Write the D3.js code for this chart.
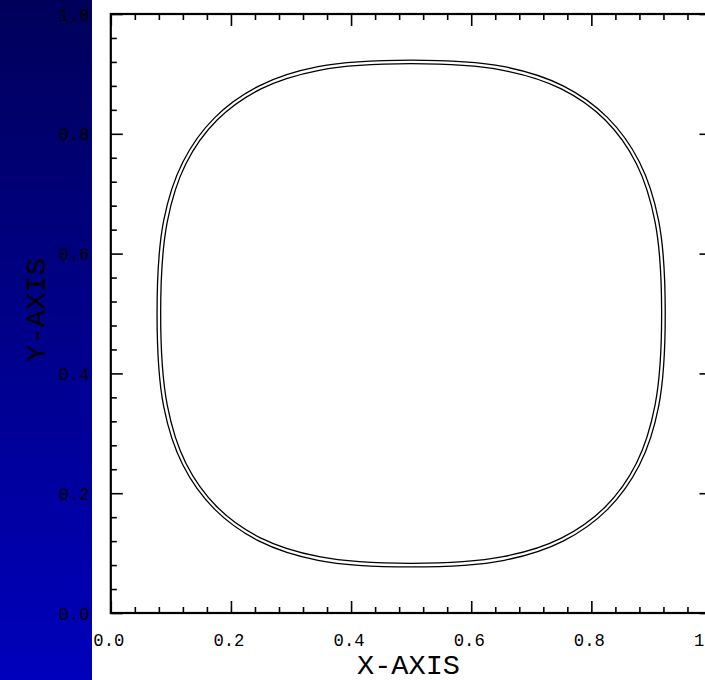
<!DOCTYPE html>
<html>
<head>
<meta charset="utf-8">
<script src="https://cdn.jsdelivr.net/npm/d3@7"></script>
<style>
  html, body { margin: 0; padding: 0; background: #fff; overflow: hidden; }
  svg { display: block; }
</style>
</head>
<body>
<script>
// tick values (major every 0.2, minor every 0.04)
var majorTicks = [0.0, 0.2, 0.4, 0.6, 0.8, 1.0];
var minorTicks = [0.04, 0.08, 0.12, 0.16, 0.24, 0.28, 0.32, 0.36, 0.44, 0.48, 0.52, 0.56,
                  0.64, 0.68, 0.72, 0.76, 0.84, 0.88, 0.92, 0.96];
var xTitle = "X-AXIS";
var yTitle = "Y-AXIS";

// outer contour
var outerX = [0.923, 0.912, 0.880, 0.827, 0.753, 0.655, 0.500, 0.345, 0.247, 0.173, 0.120, 0.088,
              0.077, 0.088, 0.120, 0.173, 0.247, 0.345, 0.500, 0.655, 0.753, 0.827, 0.880, 0.912];
var outerY = [0.500, 0.655, 0.753, 0.827, 0.880, 0.912, 0.923, 0.912, 0.880, 0.827, 0.753, 0.655,
              0.500, 0.345, 0.247, 0.173, 0.120, 0.088, 0.077, 0.088, 0.120, 0.173, 0.247, 0.345];

// inner contour
var innerX = [0.917, 0.906, 0.875, 0.823, 0.750, 0.653, 0.500, 0.347, 0.250, 0.177, 0.125, 0.094,
              0.083, 0.094, 0.125, 0.177, 0.250, 0.347, 0.500, 0.653, 0.750, 0.823, 0.875, 0.906];
var innerY = [0.500, 0.653, 0.750, 0.823, 0.875, 0.906, 0.917, 0.906, 0.875, 0.823, 0.750, 0.653,
              0.500, 0.347, 0.250, 0.177, 0.125, 0.094, 0.083, 0.094, 0.125, 0.177, 0.250, 0.347];

function drawChart(){

	var w = 705;
	var h = 680;

	var plot_left = 110.8;
	var plot_right = 711.5;
	var plot_top = 14;
	var plot_bottom = 613;
	var panel_width = 92;
	var font = "'Liberation Mono', 'DejaVu Sans Mono', monospace";

	var svg = d3.select("body")
		.append("svg")
		.attr("width", w)
		.attr("height", h);

	var x = d3.scaleLinear().domain([0, 1]).range([plot_left, plot_right]);
	var y = d3.scaleLinear().domain([0, 1]).range([plot_bottom, plot_top]);

	// BLUE SIDE PANEL

	var grad = svg.append("defs").append("linearGradient")
		.attr("id", "panelGrad")
		.attr("x1", 0).attr("y1", 0).attr("x2", 0).attr("y2", 1);
	grad.append("stop").attr("offset", "0%").attr("stop-color", "#00005a");
	grad.append("stop").attr("offset", "100%").attr("stop-color", "#0000bc");

	svg.append("rect")
		.attr("x", 0).attr("y", 0)
		.attr("width", panel_width).attr("height", h)
		.attr("fill", "url(#panelGrad)");

	// CONTOURS

	var line = d3.line()
		.x(function(d) { return x(d[0]); })
		.y(function(d) { return y(d[1]); })
		.curve(d3.curveCatmullRomClosed.alpha(0.5));

	var contours = [d3.zip(outerX, outerY), d3.zip(innerX, innerY)];

	svg.selectAll(".contour")
		.data(contours)
		.enter()
		.append("path")
		.attr("class", "contour")
		.attr("d", line)
		.attr("fill", "none")
		.attr("stroke", "black")
		.attr("stroke-width", 1.3);

	// TICKS (all pointing into the plot)

	function tickAxis(axis, scale, values, size, tx, ty){
		var g = svg.append("g")
			.attr("transform", "translate(" + tx + "," + ty + ")")
			.call(axis(scale).tickValues(values).tickSize(size).tickFormat(""));
		g.select(".domain").remove();
		g.selectAll(".tick line").attr("stroke", "black").attr("stroke-width", 1.6);
		return g;
	}

	tickAxis(d3.axisBottom, x, majorTicks, -12, 0, plot_bottom);
	tickAxis(d3.axisBottom, x, minorTicks, -6, 0, plot_bottom);
	tickAxis(d3.axisTop, x, majorTicks, -12, 0, plot_top);
	tickAxis(d3.axisTop, x, minorTicks, -6, 0, plot_top);
	tickAxis(d3.axisLeft, y, majorTicks, -12, plot_left, 0);
	tickAxis(d3.axisLeft, y, minorTicks, -6, plot_left, 0);
	tickAxis(d3.axisRight, y, majorTicks, -12, plot_right, 0);
	tickAxis(d3.axisRight, y, minorTicks, -6, plot_right, 0);

	// FRAME

	svg.append("rect")
		.attr("x", plot_left).attr("y", plot_top)
		.attr("width", plot_right - plot_left)
		.attr("height", plot_bottom - plot_top)
		.attr("fill", "none")
		.attr("stroke", "black")
		.attr("stroke-width", 2.2);

	// TICK LABELS

	var fmt = d3.format(".1f");

	svg.selectAll(".xlab")
		.data(majorTicks)
		.enter()
		.append("text")
		.attr("class", "xlab")
		.attr("x", function(d) { return x(d) - 2; })
		.attr("y", 646)
		.attr("text-anchor", "middle")
		.attr("font-family", font).attr("font-size", "19px")
		.attr("textLength", 31).attr("lengthAdjust", "spacingAndGlyphs")
		.attr("fill", "black")
		.text(function(d) { return fmt(d); });

	svg.selectAll(".ylab")
		.data(majorTicks)
		.enter()
		.append("text")
		.attr("class", "ylab")
		.attr("x", 89.5)
		.attr("y", function(d) { return y(d) + 6.5; })
		.attr("text-anchor", "end")
		.attr("font-family", font).attr("font-size", "19px")
		.attr("textLength", 31).attr("lengthAdjust", "spacingAndGlyphs")
		.attr("fill", "black")
		.text(function(d) { return fmt(d); });

	// AXIS TITLES

	svg.append("text")
		.attr("x", 408.5)
		.attr("y", 674)
		.attr("text-anchor", "middle")
		.attr("font-family", font).attr("font-size", "27px")
		.attr("textLength", 103).attr("lengthAdjust", "spacingAndGlyphs")
		.attr("fill", "black")
		.text(xTitle);

	svg.append("text")
		.attr("transform", "translate(45,310) rotate(-90)")
		.attr("text-anchor", "middle")
		.attr("font-family", font).attr("font-size", "27px")
		.attr("textLength", 104).attr("lengthAdjust", "spacingAndGlyphs")
		.attr("fill", "black")
		.text(yTitle);
}

drawChart();
</script>
</body>
</html>
